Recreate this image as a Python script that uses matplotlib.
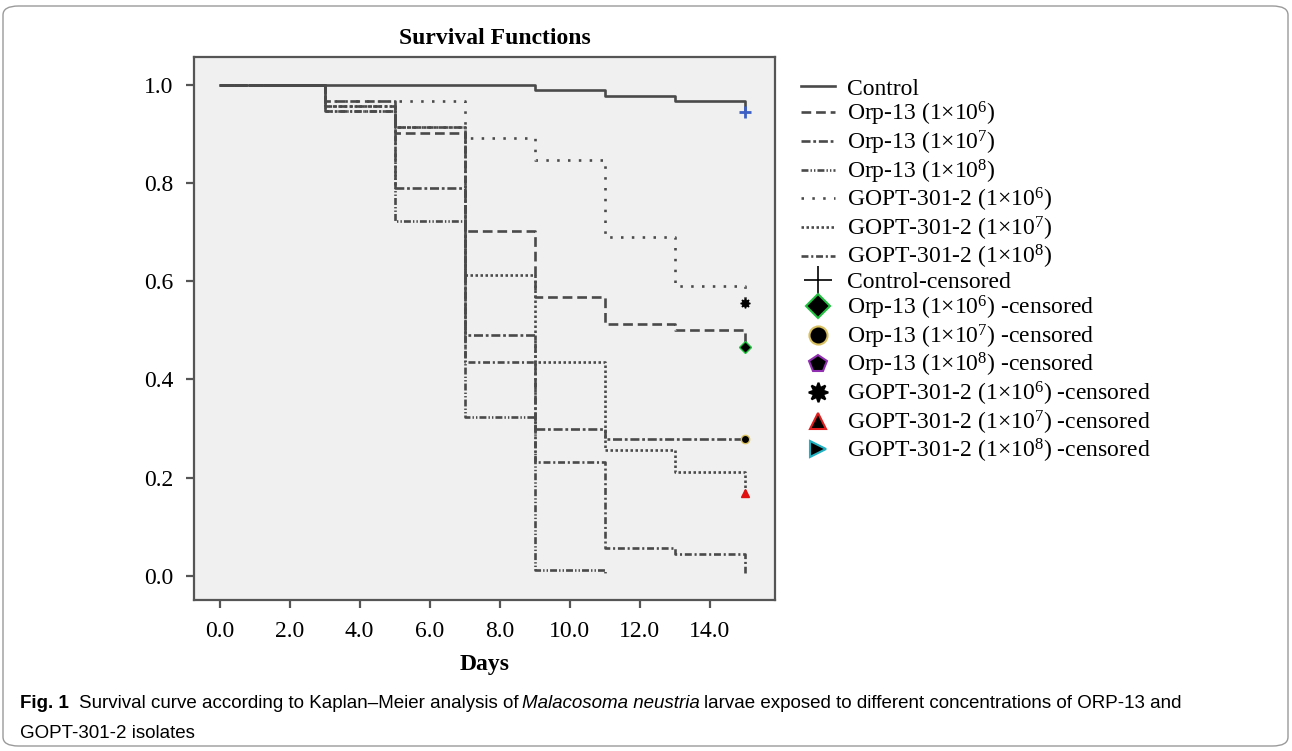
import matplotlib
matplotlib.use("Agg")
import matplotlib.pyplot as plt
from matplotlib.lines import Line2D
from matplotlib.patches import FancyBboxPatch

plt.rcParams['font.family'] = ['Liberation Serif', 'DejaVu Serif']
plt.rcParams['mathtext.fontset'] = 'custom'
plt.rcParams['mathtext.rm'] = 'Liberation Serif'
plt.rcParams['mathtext.it'] = 'Liberation Serif:italic'
plt.rcParams['mathtext.bf'] = 'Liberation Serif:bold'
plt.rcParams['lines.scale_dashes'] = False

# Data (survival at each step time)
days = [0, 3, 5, 7, 9, 11, 13, 15]
control = [1.0, 1.0, 1.0, 1.0, 0.989, 0.977, 0.967, 0.945]
orp13_e6 = [1.0, 0.967, 0.901, 0.702, 0.568, 0.513, 0.500, 0.466]
orp13_e7 = [1.0, 0.957, 0.789, 0.490, 0.300, 0.278, 0.278, 0.278]
orp13_e8 = [1.0, 0.947, 0.723, 0.324, 0.012, 0.003]
gopt_e6 = [1.0, 0.967, 0.967, 0.891, 0.847, 0.690, 0.590, 0.556]
gopt_e7 = [1.0, 0.957, 0.913, 0.612, 0.435, 0.256, 0.212, 0.169]
gopt_e8 = [1.0, 0.947, 0.913, 0.435, 0.232, 0.056, 0.044, 0.005]

line_labels = ["Control", "Orp-13 (1×10$^{6}$)", "Orp-13 (1×10$^{7}$)", "Orp-13 (1×10$^{8}$)",
               "GOPT-301-2 (1×10$^{6}$)", "GOPT-301-2 (1×10$^{7}$)", "GOPT-301-2 (1×10$^{8}$)"]
censor_labels = ["Control-censored", "Orp-13 (1×10$^{6}$) -censored", "Orp-13 (1×10$^{7}$) -censored",
                 "Orp-13 (1×10$^{8}$) -censored", "GOPT-301-2 (1×10$^{6}$) -censored",
                 "GOPT-301-2 (1×10$^{7}$) -censored", "GOPT-301-2 (1×10$^{8}$) -censored"]
x_ticks = [0, 2, 4, 6, 8, 10, 12, 14]
y_ticks = [0.0, 0.2, 0.4, 0.6, 0.8, 1.0]

series = [control, orp13_e6, orp13_e7, orp13_e8, gopt_e6, gopt_e7, gopt_e8]
styles = ['-', (0, (7, 3.5)), (0, (6.5, 2, 2, 2)), (0, (5, 1.5, 1, 1.5, 1, 1.5)),
          (0, (1.8, 6)), (0, (1.8, 1.8)), (0, (5, 2, 1.5, 2))]
line_col = '#4a4a4a'

# censored markers: (series index, marker, face, edge, size)
censored = [(0, '+', '#3b5fc4', '#3b5fc4', 8),
            (1, 'D', 'black', '#22c040', 6),
            (2, 'o', 'black', '#d8c060', 6),
            (4, (8, 1, 0), 'black', 'black', 7),
            (5, '^', '#e01010', '#e01010', 6)]

W, H = 1292, 751
fig = plt.figure(figsize=(W / 100, H / 100), dpi=100)

# rounded frame round the whole figure
fig.patches.append(FancyBboxPatch((3 / W, 5 / H), 1285 / W, 740 / H,
                                  boxstyle='round,pad=0,rounding_size=0.012',
                                  transform=fig.transFigure, fc='none', ec='#9a9a9a', lw=1.0))

ax = fig.add_axes([194 / W, 1 - 600 / H, (775 - 194) / W, (600 - 57) / H])
ax.set_facecolor('#f0f0f0')

for vals, ls in zip(series, styles):
    ax.step(days[:len(vals)], vals, where='post', color=line_col, lw=1.9, linestyle=ls)

for idx, mk, fc, ec, ms in censored:
    mew = 2 if mk == '+' else 1
    ax.plot(days[-1], series[idx][-1], marker=mk, ms=ms, mfc=fc, mec=ec, mew=mew, ls='none', zorder=5)

ax.set_xlim(-0.73, 15.86)
ax.set_ylim(-0.049, 1.056)
ax.set_xticks(x_ticks)
ax.set_xticklabels([f"{v:.1f}" for v in x_ticks])
ax.set_yticks(y_ticks)
ax.set_yticklabels([f"{v:.1f}" for v in y_ticks])
ax.tick_params(direction='out', length=6, width=1.6, color='#555555', labelsize=17, pad=9)
for s in ax.spines.values():
    s.set_color('#555555')
    s.set_linewidth(1.6)
ax.set_xlabel("Days", fontsize=17, fontweight='bold', labelpad=9)

fig.text(495 / W, 1 - 38 / H, "Survival Functions", fontsize=17, fontweight='bold',
         ha='center', va='center')

# legend
handles = [Line2D([], [], color=line_col, lw=1.9, linestyle=ls) for ls in styles]
leg_markers = [('+', 'black', 'black', 20), ('D', 'black', '#22c040', 12), ('o', 'black', '#d8c060', 13),
               ('p', 'black', '#9030b0', 13), ((8, 1, 0), 'black', 'black', 14),
               ('^', 'black', '#e02020', 12), ('>', 'black', '#20b0c0', 11)]
for mk, fc, ec, ms in leg_markers:
    mew = 1.2 if mk == '+' else 1.5
    handles.append(Line2D([], [], marker=mk, ms=ms, mfc=fc, mec=ec, mew=mew, ls='none'))
fig.legend(handles, line_labels + censor_labels, loc='upper left',
           bbox_to_anchor=(801 / W, 1 - 78 / H), frameon=False, fontsize=17,
           handlelength=1.45, handletextpad=0.5, labelspacing=0.02, borderpad=0, borderaxespad=0)

# caption
cap_kw = dict(fontsize=13.5, family=['Liberation Sans', 'DejaVu Sans'], va='center', ha='left')
r = fig.canvas.get_renderer()
y1 = 1 - 703 / H
parts = [("Fig. 1", 'bold', 'normal', 10),
         ("Survival curve according to Kaplan–Meier analysis of", 'normal', 'normal', 4),
         ("Malacosoma neustria", 'normal', 'italic', 4),
         ("larvae exposed to different concentrations of ORP-13 and", 'normal', 'normal', 0)]
x = 20
for txt, fw, st, gap in parts:
    t = fig.text(x / W, y1, txt, fontweight=fw, style=st, **cap_kw)
    bb = t.get_window_extent(renderer=r)
    x = bb.x1 + gap
fig.text(20 / W, 1 - 733 / H, "GOPT-301-2 isolates", **cap_kw)

fig.savefig("out.png", dpi=100)
